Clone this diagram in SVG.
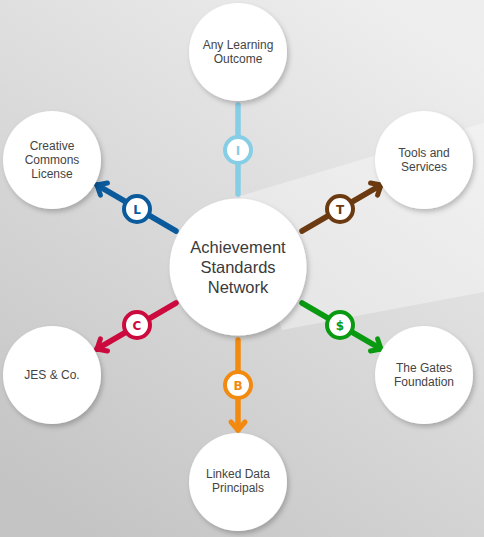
<svg xmlns="http://www.w3.org/2000/svg" width="484" height="537" viewBox="0 0 484 537">
<defs>
<linearGradient id="bg" x1="0.8" y1="0" x2="0.2" y2="1">
<stop offset="0" stop-color="#eeeeee"/>
<stop offset="0.5" stop-color="#d9d9d9"/>
<stop offset="1" stop-color="#c4c4c4"/>
</linearGradient>
<filter id="sh" x="-20%" y="-20%" width="150%" height="150%">
<feDropShadow dx="2" dy="3" stdDeviation="2.5" flood-color="#000" flood-opacity="0.22"/>
</filter>
<marker id="mL" markerUnits="userSpaceOnUse" viewBox="-14 -12 18 24" markerWidth="18" markerHeight="24" refX="0" refY="0" orient="auto"><path d="M-8,-7 L0,0 L-8,7" fill="none" stroke="#0b5a9c" stroke-width="5" stroke-linecap="round" stroke-linejoin="round"/></marker>
<marker id="mT" markerUnits="userSpaceOnUse" viewBox="-14 -12 18 24" markerWidth="18" markerHeight="24" refX="0" refY="0" orient="auto"><path d="M-8,-7 L0,0 L-8,7" fill="none" stroke="#6b3a10" stroke-width="5" stroke-linecap="round" stroke-linejoin="round"/></marker>
<marker id="mC" markerUnits="userSpaceOnUse" viewBox="-14 -12 18 24" markerWidth="18" markerHeight="24" refX="0" refY="0" orient="auto"><path d="M-8,-7 L0,0 L-8,7" fill="none" stroke="#cc0a3d" stroke-width="5" stroke-linecap="round" stroke-linejoin="round"/></marker>
<marker id="mS" markerUnits="userSpaceOnUse" viewBox="-14 -12 18 24" markerWidth="18" markerHeight="24" refX="0" refY="0" orient="auto"><path d="M-8,-7 L0,0 L-8,7" fill="none" stroke="#0a9a12" stroke-width="5" stroke-linecap="round" stroke-linejoin="round"/></marker>
<marker id="mB" markerUnits="userSpaceOnUse" viewBox="-14 -12 18 24" markerWidth="18" markerHeight="24" refX="0" refY="0" orient="auto"><path d="M-8,-7 L0,0 L-8,7" fill="none" stroke="#f28a10" stroke-width="5" stroke-linecap="round" stroke-linejoin="round"/></marker>
</defs>
<style>
.node{fill:#fff;filter:url(#sh)}
.lbl{font-family:"Liberation Sans",Arial,sans-serif;font-size:12px;fill:#444;text-anchor:middle}
.big{font-family:"Liberation Sans",Arial,sans-serif;font-size:16.5px;fill:#3a3a3a;text-anchor:middle}
.ln{fill:none;stroke-width:5.5;stroke-linecap:round}
.badge{fill:#fff;stroke-width:4}
.bt{font-family:"DejaVu Sans",Verdana,sans-serif;font-size:12px;font-weight:bold;text-anchor:middle}
</style>
<rect width="484" height="537" fill="url(#bg)"/>
<polygon points="240,196 484,123 484,292 282,330" fill="#fff" fill-opacity="0.35"/>

<g id="connectors">
<line class="ln" x1="238" y1="105" x2="238" y2="194" stroke="#86cde6"/>
<line class="ln" x1="176" y1="231" x2="97" y2="185" stroke="#0b5a9c" marker-end="url(#mL)"/>
<line class="ln" x1="302" y1="231" x2="381" y2="185" stroke="#6b3a10" marker-end="url(#mT)"/>
<line class="ln" x1="176" y1="303" x2="97" y2="349" stroke="#cc0a3d" marker-end="url(#mC)"/>
<line class="ln" x1="302" y1="303" x2="381" y2="349" stroke="#0a9a12" marker-end="url(#mS)"/>
<line class="ln" x1="238" y1="340" x2="238" y2="430" stroke="#f28a10" marker-end="url(#mB)"/>
<circle class="badge" cx="238" cy="150" r="13" stroke="#86cde6"/>
<text class="bt" x="238" y="154.5" fill="#86cde6">I</text>
<circle class="badge" cx="137" cy="209" r="13" stroke="#0b5a9c"/>
<text class="bt" x="137" y="213.5" fill="#0b5a9c">L</text>
<circle class="badge" cx="340" cy="209" r="13" stroke="#6b3a10"/>
<text class="bt" x="340" y="213.5" fill="#6b3a10">T</text>
<circle class="badge" cx="137" cy="325" r="13" stroke="#cc0a3d"/>
<text class="bt" x="137" y="329.5" fill="#cc0a3d">C</text>
<circle class="badge" cx="340" cy="325" r="13" stroke="#0a9a12"/>
<text class="bt" x="340" y="329.5" fill="#0a9a12">$</text>
<circle class="badge" cx="238" cy="385" r="13" stroke="#f28a10"/>
<text class="bt" x="238" y="389.5" fill="#f28a10">B</text>
</g>

<g id="center">
<circle class="node" cx="238" cy="267" r="68.5"/>
<text class="big" x="238" y="253">Achievement</text>
<text class="big" x="238" y="273">Standards</text>
<text class="big" x="238" y="293">Network</text>
</g>
<g id="any-learning">
<circle class="node" cx="238" cy="52" r="49"/>
<text class="lbl" x="238" y="49">Any Learning</text>
<text class="lbl" x="238" y="63">Outcome</text>
</g>
<g id="creative-commons">
<circle class="node" cx="52" cy="160" r="49"/>
<text class="lbl" x="52" y="150">Creative</text>
<text class="lbl" x="52" y="164">Commons</text>
<text class="lbl" x="52" y="178">License</text>
</g>
<g id="tools">
<circle class="node" cx="424" cy="160" r="49"/>
<text class="lbl" x="424" y="157">Tools and</text>
<text class="lbl" x="424" y="171">Services</text>
</g>
<g id="jes">
<circle class="node" cx="52" cy="375" r="49"/>
<text class="lbl" x="52" y="379">JES &amp; Co.</text>
</g>
<g id="gates">
<circle class="node" cx="424" cy="375" r="49"/>
<text class="lbl" x="424" y="372">The Gates</text>
<text class="lbl" x="424" y="386">Foundation</text>
</g>
<g id="linked-data">
<circle class="node" cx="238" cy="482" r="49"/>
<text class="lbl" x="238" y="478">Linked Data</text>
<text class="lbl" x="238" y="492">Principals</text>
</g>
</svg>
